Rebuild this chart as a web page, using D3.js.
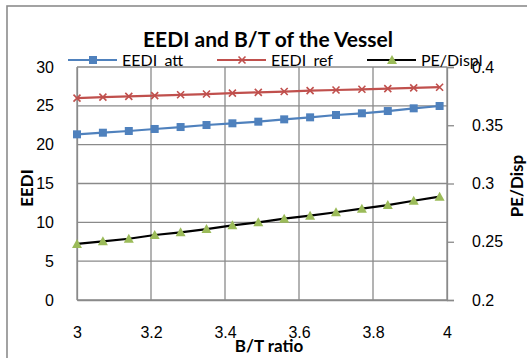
<!DOCTYPE html>
<html>
<head>
<meta charset="utf-8">
<script src="https://cdn.jsdelivr.net/npm/d3@7"></script>
<style>
  html, body { margin: 0; padding: 0; background: #fff; }
  svg { display: block; font-family: Lato, "Open Sans", sans-serif; }
</style>
</head>
<body>
<svg id="chart" width="527" height="358"></svg>
<script>
// B/T ratio values (x) and the three series
const btRatio = [3.00, 3.07, 3.14, 3.21, 3.28, 3.35, 3.42, 3.49, 3.56, 3.63, 3.70, 3.77, 3.84, 3.91, 3.98];
const eediAtt = [21.33, 21.54, 21.76, 22.02, 22.27, 22.53, 22.75, 22.96, 23.26, 23.52, 23.82, 24.04, 24.33, 24.68, 24.98];
const eediRef = [26.00, 26.12, 26.22, 26.32, 26.42, 26.52, 26.63, 26.73, 26.84, 26.95, 27.04, 27.13, 27.22, 27.31, 27.40];
const peDisp = [0.2481, 0.2504, 0.2526, 0.2558, 0.2581, 0.2609, 0.2641, 0.2667, 0.2698, 0.2724, 0.2753, 0.2784, 0.2815, 0.2852, 0.2887];

const xTicks = [3, 3.2, 3.4, 3.6, 3.8, 4];
const leftTicks = [0, 5, 10, 15, 20, 25, 30];
const rightTicks = [0.2, 0.25, 0.3, 0.35, 0.4];

const svg = d3.select('#chart');
const plot = { left: 77, right: 447, top: 67, bottom: 300 };

const x = d3.scaleLinear().domain([3, 4]).range([plot.left, plot.right]);
const yL = d3.scaleLinear().domain([0, 30]).range([plot.bottom, plot.top]);
const yR = d3.scaleLinear().domain([0.2, 0.4]).range([plot.bottom, plot.top]);

const gridColor = '#8a8a8a';
const tickFont = 16;
const titleFont = 17;

// outer chart frame (runs off the right and bottom of the picture)
svg.append('rect')
    .attr('x', 7).attr('y', 6)
    .attr('width', 560).attr('height', 400)
    .attr('fill', 'none')
    .attr('stroke', '#8c8c8c')
    .attr('stroke-width', 1.6);

// gridlines
svg.append('g')
    .selectAll('line')
    .data(leftTicks)
    .join('line')
    .attr('x1', plot.left).attr('x2', plot.right)
    .attr('y1', d => yL(d)).attr('y2', d => yL(d))
    .attr('stroke', gridColor).attr('stroke-width', 1.3);

svg.append('g')
    .selectAll('line')
    .data(xTicks)
    .join('line')
    .attr('x1', d => x(d)).attr('x2', d => x(d))
    .attr('y1', plot.top).attr('y2', plot.bottom)
    .attr('stroke', gridColor).attr('stroke-width', 1.3);

// left axis
const leftAxis = svg.append('g')
    .attr('transform', `translate(${plot.left},0)`)
    .call(d3.axisLeft(yL).tickValues(leftTicks).tickSize(0).tickPadding(23).tickFormat(d3.format('d')));
leftAxis.select('.domain').attr('stroke', gridColor).attr('stroke-width', 1.3);
leftAxis.selectAll('text').attr('font-size', tickFont).attr('fill', '#000');

// right axis
const rightAxis = svg.append('g')
    .attr('transform', `translate(${plot.right},0)`)
    .call(d3.axisRight(yR).tickValues(rightTicks).tickSize(7).tickPadding(18).tickFormat(d => d));
rightAxis.select('.domain').attr('stroke', gridColor).attr('stroke-width', 1.3);
rightAxis.selectAll('line').attr('stroke', gridColor).attr('stroke-width', 1.3);
rightAxis.selectAll('text').attr('font-size', tickFont).attr('fill', '#000');

// bottom axis
const bottomAxis = svg.append('g')
    .attr('transform', `translate(0,${plot.bottom})`)
    .call(d3.axisBottom(x).tickValues(xTicks).tickSize(0).tickPadding(27).tickFormat(d => d));
bottomAxis.select('.domain').attr('stroke', gridColor).attr('stroke-width', 1.3);
bottomAxis.selectAll('text').attr('font-size', tickFont).attr('fill', '#000');

// series
const series = [
    { name: 'EEDI_att', values: eediAtt, y: yL, color: '#4f81bd', line: '#4f81bd', marker: 'square' },
    { name: 'EEDI_ref', values: eediRef, y: yL, color: '#c0504d', line: '#c0504d', marker: 'cross' },
    { name: 'PE/Displ', values: peDisp, y: yR, color: '#9bbb59', line: '#000000', marker: 'triangle' }
];

function drawMarker(g, type, color) {
    if (type === 'square') {
        g.append('rect').attr('x', -4).attr('y', -4).attr('width', 8).attr('height', 8).attr('fill', color);
    } else if (type === 'cross') {
        g.append('path').attr('d', 'M-3.5,-3.5L3.5,3.5M-3.5,3.5L3.5,-3.5')
            .attr('stroke', color).attr('stroke-width', 1.6).attr('fill', 'none');
    } else {
        g.append('path').attr('d', 'M0,-5L5,4L-5,4Z').attr('fill', color);
    }
}

series.forEach(s => {
    const pts = btRatio.map((b, i) => [x(b), s.y(s.values[i])]);
    svg.append('path')
        .attr('d', d3.line()(pts))
        .attr('fill', 'none')
        .attr('stroke', s.line)
        .attr('stroke-width', 2.2);
    pts.forEach(p => {
        const g = svg.append('g').attr('transform', `translate(${p[0]},${p[1]})`);
        drawMarker(g, s.marker, s.color);
    });
});

// legend (the underscore is hidden under the plot edge in the original, so it is drawn transparent)
const legendX = [68, 217, 367];
series.forEach((s, i) => {
    const lg = svg.append('g').attr('transform', `translate(${legendX[i]},60)`);
    lg.append('line').attr('x1', 0).attr('x2', 49).attr('y1', 0).attr('y2', 0)
        .attr('stroke', s.line).attr('stroke-width', 2.2);
    const m = lg.append('g').attr('transform', 'translate(25,0)');
    drawMarker(m, s.marker, s.color);
    const t = svg.append('text').attr('x', legendX[i] + 54).attr('y', 66)
        .attr('font-size', tickFont).attr('fill', '#000');
    s.name.split(/(_)/).forEach(part => {
        t.append('tspan').attr('fill-opacity', part === '_' ? 0 : 1).text(part);
    });
});

// title and axis titles
svg.append('text')
    .attr('x', 268).attr('y', 47)
    .attr('text-anchor', 'middle')
    .attr('font-size', 21).attr('font-weight', 'bold')
    .text('EEDI and B/T of the Vessel');

svg.append('text')
    .attr('x', 269).attr('y', 352)
    .attr('text-anchor', 'middle')
    .attr('font-size', titleFont).attr('font-weight', 'bold')
    .text('B/T ratio');

svg.append('text')
    .attr('transform', 'translate(33,188) rotate(-90)')
    .attr('text-anchor', 'middle')
    .attr('font-size', titleFont).attr('font-weight', 'bold')
    .text('EEDI');

svg.append('text')
    .attr('transform', 'translate(523,186) rotate(-90)')
    .attr('text-anchor', 'middle')
    .attr('font-size', titleFont).attr('font-weight', 'bold')
    .text('PE/Disp');
</script>
</body>
</html>
